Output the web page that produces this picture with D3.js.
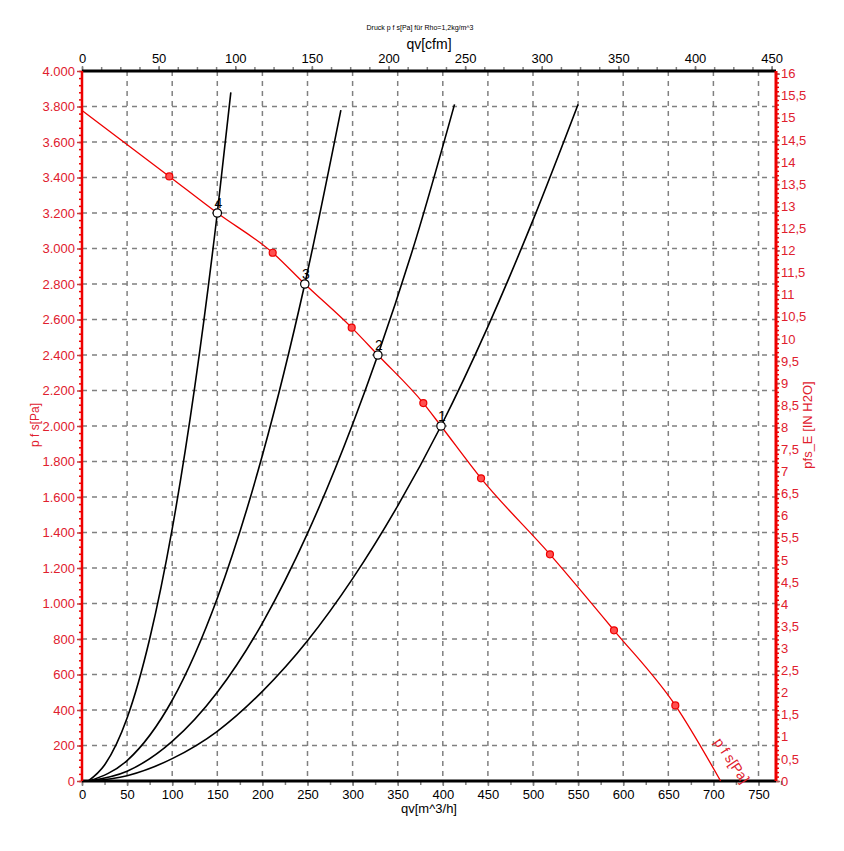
<!DOCTYPE html>
<html><head><meta charset="utf-8">
<script src="https://cdn.jsdelivr.net/npm/d3@7/dist/d3.min.js"></script>
<style>body{margin:0;background:#fff;}svg{display:block;font-family:"Liberation Sans",Arial,sans-serif;}</style>
</head><body>
<script>
// ---- data (qv in m^3/h, p in Pa) ----
const qvTicks = [0,50,100,150,200,250,300,350,400,450,500,550,600,650,700,750];
const cfmTicks = [0,50,100,150,200,250,300,350,400,450];
const paTicks = [0,200,400,600,800,1000,1200,1400,1600,1800,2000,2200,2400,2600,2800,3000,3200,3400,3600,3800,4000];
const inH2OTicks = [0,0.5,1,1.5,2,2.5,3,3.5,4,4.5,5,5.5,6,6.5,7,7.5,8,8.5,9,9.5,10,10.5,11,11.5,12,12.5,13,13.5,14,14.5,15,15.5,16];

// fan curve p f s
const fanQ = [0, 96.8, 150, 211.4, 247, 299, 328, 378.4, 398, 442.4, 518.8, 589.8, 657.8, 708];
const fanP = [3778, 3406, 3200, 2976, 2800, 2554, 2400, 2129, 2000, 1705, 1277, 849, 426, 0];
// red markers on fan curve
const markQ = [96.8, 211.4, 299, 378.4, 442.4, 518.8, 589.8, 657.8];
const markP = [3406, 2976, 2554, 2129, 1705, 1277, 849, 426];

// system curves
const sys1Q = [8, 50, 100, 150, 200, 250, 300, 350, 398, 450, 500, 550];
const sys1P = [0, 30, 126, 280, 505, 790, 1140, 1550, 2000, 2560, 3160, 3812];
const sys2Q = [8, 50, 100, 150, 200, 250, 300, 328, 370, 413];
const sys2P = [0, 55, 223, 500, 890, 1395, 2010, 2400, 3050, 3812];
const sys3Q = [8, 50, 100, 150, 200, 247, 287];
const sys3P = [0, 115, 455, 1030, 1835, 2800, 3780];
const sys4Q = [7, 25, 50, 75, 100, 125, 150, 165];
const sys4P = [0, 90, 355, 800, 1420, 2220, 3200, 3880];

// operating points
const opLabels = ["1","2","3","4"];
const opQ = [398, 328, 247, 150];
const opP = [2000, 2400, 2800, 3200];

const W = 844, H = 851;
const L = 82, R = 776, T = 71, B = 781;
const qMax = 769.4, pMax = 4000;
const CFM = 1.69901, INH2O = 249.089;
const red = "#ee0000", redText = "#e0202e", grid = "#808080";

const svg = d3.select("body").append("svg").attr("width", W).attr("height", H);
const x = d3.scaleLinear().domain([0, qMax]).range([L, R]);
const xc = d3.scaleLinear().domain([0, qMax / CFM]).range([L, R]);
const y = d3.scaleLinear().domain([0, pMax]).range([B, T]);
const yr = d3.scaleLinear().domain([0, pMax / INH2O]).range([B, T]);

const de = d3.formatLocale({decimal: ",", thousands: ".", grouping: [3], currency: ["", "€"]});
const fPa = de.format(",d");
const fIn = de.format(".1~f");

// grid
const g = svg.append("g");
g.selectAll("line.v").data(qvTicks.filter(d => d > 0)).join("line")
  .attr("x1", d => x(d)).attr("x2", d => x(d)).attr("y1", T).attr("y2", B)
  .attr("stroke", grid).attr("stroke-width", 1.5).attr("stroke-dasharray", "5,5");
g.selectAll("line.h").data(paTicks.filter(d => d > 0 && d < 4000)).join("line")
  .attr("y1", d => y(d)).attr("y2", d => y(d)).attr("x1", L).attr("x2", R)
  .attr("stroke", grid).attr("stroke-width", 1.5).attr("stroke-dasharray", "5,5");

function styleAxis(sel, color, textColor) {
  sel.select(".domain").remove();
  sel.selectAll(".tick line").attr("stroke", color).attr("stroke-width", 1.5);
  sel.selectAll(".tick text").attr("fill", textColor).style("font-size", "13px").style("font-family", '"Liberation Sans",Arial,sans-serif');
}
// bottom
const bMinor = d3.range(0, 776, 25);
svg.append("g").attr("transform", `translate(0,${B})`)
  .call(d3.axisBottom(x).tickValues(bMinor).tickSize(4).tickFormat(""))
  .call(s => styleAxis(s, grid, "#000"));
svg.append("g").attr("transform", `translate(0,${B})`)
  .call(d3.axisBottom(x).tickValues(qvTicks).tickSize(5).tickPadding(4).tickFormat(d3.format("d")))
  .call(s => styleAxis(s, grid, "#000"));
// top
const tMinor = d3.range(0, 453, 12.5);
svg.append("g").attr("transform", `translate(0,${T})`)
  .call(d3.axisTop(xc).tickValues(tMinor).tickSize(4).tickFormat(""))
  .call(s => styleAxis(s, grid, "#000"));
svg.append("g").attr("transform", `translate(0,${T})`)
  .call(d3.axisTop(xc).tickValues(cfmTicks).tickSize(5).tickPadding(3).tickFormat(d3.format("d")))
  .call(s => styleAxis(s, grid, "#000"));
// left
const lMinor = d3.range(0, 4001, 40);
svg.append("g").attr("transform", `translate(${L},0)`)
  .call(d3.axisLeft(y).tickValues(lMinor).tickSize(3).tickFormat(""))
  .call(s => styleAxis(s, red, redText));
svg.append("g").attr("transform", `translate(${L},0)`)
  .call(d3.axisLeft(y).tickValues(paTicks).tickSize(5).tickPadding(2).tickFormat(fPa))
  .call(s => styleAxis(s, "#c04040", redText));
// right
const rMinor = d3.range(0, 16.01, 0.1);
svg.append("g").attr("transform", `translate(${R},0)`)
  .call(d3.axisRight(yr).tickValues(rMinor).tickSize(3).tickFormat(""))
  .call(s => styleAxis(s, red, redText));
svg.append("g").attr("transform", `translate(${R},0)`)
  .call(d3.axisRight(yr).tickValues(inH2OTicks).tickSize(4).tickPadding(1).tickFormat(fIn))
  .call(s => styleAxis(s, "#a06060", redText));

// axis lines
svg.append("line").attr("x1", L).attr("x2", R).attr("y1", B).attr("y2", B).attr("stroke", "#000").attr("stroke-width", 3);
svg.append("line").attr("x1", L).attr("x2", R).attr("y1", T).attr("y2", T).attr("stroke", "#000").attr("stroke-width", 3);
svg.append("line").attr("x1", L).attr("x2", L).attr("y1", T).attr("y2", B).attr("stroke", red).attr("stroke-width", 2.5);
svg.append("line").attr("x1", R).attr("x2", R).attr("y1", T).attr("y2", B).attr("stroke", red).attr("stroke-width", 3);

// system curves
const sys = [[sys1Q, sys1P], [sys2Q, sys2P], [sys3Q, sys3P], [sys4Q, sys4P]];
const line = d3.line().x(d => x(d[0])).y(d => y(d[1])).curve(d3.curveMonotoneX);
sys.forEach(([qs, ps]) => {
  svg.append("path").datum(qs.map((q, i) => [q, ps[i]]))
    .attr("d", line).attr("fill", "none").attr("stroke", "#000").attr("stroke-width", 1.6);
});

// fan curve
const fanData = fanQ.map((q, i) => [q, fanP[i]]);
svg.append("path").datum(fanData).attr("d", d3.line().x(d => x(d[0])).y(d => y(d[1])).curve(d3.curveMonotoneX))
  .attr("fill", "none").attr("stroke", red).attr("stroke-width", 1.3);
svg.selectAll("circle.m").data(markQ.map((q, i) => [q, markP[i]])).join("circle")
  .attr("cx", d => x(d[0])).attr("cy", d => y(d[1])).attr("r", 3.5)
  .attr("fill", "#ff5050").attr("stroke", red).attr("stroke-width", 1.2);

// operating points
opQ.forEach((q, i) => {
  svg.append("circle").attr("cx", x(q)).attr("cy", y(opP[i])).attr("r", 4.2)
    .attr("fill", "#fff").attr("stroke", "#000").attr("stroke-width", 1.2);
  svg.append("text").attr("x", x(q) + 1).attr("y", y(opP[i]) - 5).attr("text-anchor", "middle")
    .style("font-size", "14px").attr("fill", "#000").text(opLabels[i]);
});

// curve label
svg.append("text").attr("transform", `translate(${x(690) + 9},${y(220)}) rotate(56)`)
  .attr("fill", redText).style("font-size", "14px").text("p f s[Pa]");

// titles
svg.append("text").attr("x", 420).attr("y", 30).attr("text-anchor", "middle").style("font-size", "7px").attr("fill", "#000")
  .text("Druck p f s[Pa] für Rho=1,2kg/m^3");
svg.append("text").attr("x", 429).attr("y", 49).attr("text-anchor", "middle").style("font-size", "14px").attr("fill", "#000")
  .text("qv[cfm]");
svg.append("text").attr("x", 429).attr("y", 813).attr("text-anchor", "middle").style("font-size", "13px").attr("fill", "#000")
  .text("qv[m^3/h]");
svg.append("text").attr("transform", "translate(39,425) rotate(-90)").attr("text-anchor", "middle").style("font-size", "12px").attr("fill", redText)
  .text("p f s[Pa]");
svg.append("text").attr("transform", "translate(812,425) rotate(-90)").attr("text-anchor", "middle").style("font-size", "13px").attr("fill", redText)
  .text("pfs_E [IN H2O]");
</script>
</body></html>
